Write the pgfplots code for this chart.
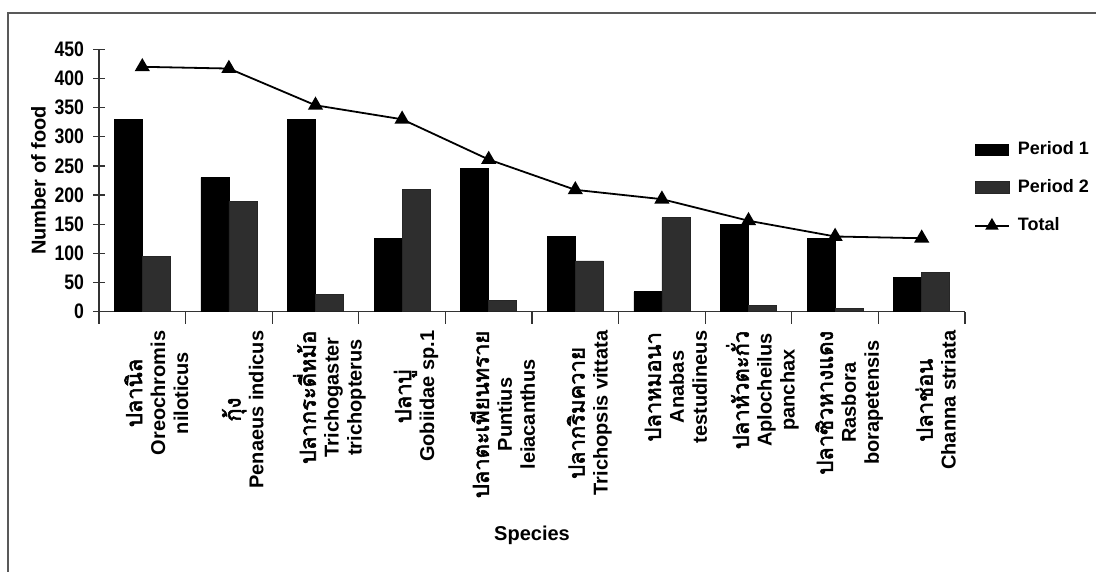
\documentclass[border=0pt]{standalone}
\usepackage{fontspec}
\setmainfont{Liberation Sans}
\newfontfamily\narrowfont{Liberation Sans}[FakeStretch=0.84]
\newfontfamily\thaifont[Script=Thai, AutoFakeBold=2.5, Scale=1.1]{Loma}
\usepackage{pgfplots}
\pgfplotsset{compat=1.18}
\pgfplotsset{totallegend/.style={legend image code/.code={\draw[##1, mark repeat=2, mark phase=2, mark size=3pt] plot coordinates {(0pt,0pt) (8.5pt,0pt) (17pt,0pt)};}}}
\pgfplotstableread{
x p1 p2 total
0 329 94 420
1 230 189 417
2 330 29 354
3 126 209 330
4 246 19 261
5 129 87 209
6 34 161 193
7 150 10 156
8 125 6 129
9 59 68 126
}\foodtable
\begin{document}
\begin{tikzpicture}[x=1pt,y=1pt]
\useasboundingbox (0,0) rectangle (548,-286);
\draw[black!65, line width=0.7pt] (4,-320) -- (4,-6.5) -- (620,-6.5);
\begin{axis}[
  at={(49.5pt,-155.85pt)}, anchor=south west, scale only axis,
  width=433pt, height=131.2pt,
  xmin=-0.5, xmax=9.5, ymin=0, ymax=450,
  axis lines*=left,
  axis line style={black!80, line width=0.6pt},
  ytick={0,50,...,450},
  /pgf/number format/assume math mode=true,
  xtick={0,...,9},
  xticklabels={
    {{\thaifont ปลานิล}\\Oreochromis\\niloticus},
    {{\thaifont กุ้ง}\\Penaeus indicus},
    {{\thaifont ปลากระดี่หม้อ}\\Trichogaster\\trichopterus},
    {{\thaifont ปลาบู่}\\Gobiidae sp.1},
    {{\thaifont ปลาตะเพียนทราย}\\Puntius\\leiacanthus},
    {{\thaifont ปลากริมควาย}\\Trichopsis vittata},
    {{\thaifont ปลาหมอนา}\\Anabas\\testudineus},
    {{\thaifont ปลาหัวตะกั่ว}\\Aplocheilus\\panchax},
    {{\thaifont ปลาซิวหางแดง}\\Rasbora\\borapetensis},
    {{\thaifont ปลาช่อน}\\Channa striata}},
  major x tick style={draw=none},
  minor xtick={-0.5,0.5,...,9.5},
  tick align=center,
  major tick length=6pt, minor tick length=6pt,
  tick style={black!80, line width=0.6pt},
  xticklabel style={rotate=90, anchor=east, align=center, yshift=-7pt,
    font=\bfseries\fontsize{10}{11.5}\selectfont},
  yticklabel style={font=\narrowfont\bfseries\fontsize{10.5}{12}\selectfont, xshift=-1pt},
  ylabel={\bfseries Number of food},
  ylabel style={at={(axis description cs:-0.07,0.5)}, anchor=center,
    font=\fontsize{10}{12}\selectfont},
  xlabel={\bfseries Species},
  xlabel style={at={(axis description cs:0.5,-0.851)}, anchor=center,
    font=\fontsize{10}{12}\selectfont},
  ybar=0pt, bar width=14pt,
  legend style={at={(axis description cs:1.01,0.665)}, anchor=north west,
    draw=none, fill=none, font=\bfseries\fontsize{9}{11}\selectfont,
    row sep=7pt, inner sep=0pt, column sep=2pt},
  legend cell align=left,
]
\addplot[fill=black, draw=black,
  legend image code/.code={\draw[fill=black,draw=none] (0pt,-3pt) rectangle (17pt,3pt);}]
  table[x=x,y=p1]{\foodtable};
\addlegendentry{Period 1}
\addplot[fill=black!82, draw=black!85,
  legend image code/.code={\draw[fill=black!82,draw=black!85] (0pt,-3pt) rectangle (17pt,3pt);}]
  table[x=x,y=p2]{\foodtable};
\addlegendentry{Period 2}
\addplot[sharp plot, black, line width=0.9pt, mark=triangle*, mark size=3.5pt,
  mark options={solid}, totallegend]
  table[x=x,y=total]{\foodtable};
\addlegendentry{Total}
\end{axis}
\end{tikzpicture}
\end{document}
